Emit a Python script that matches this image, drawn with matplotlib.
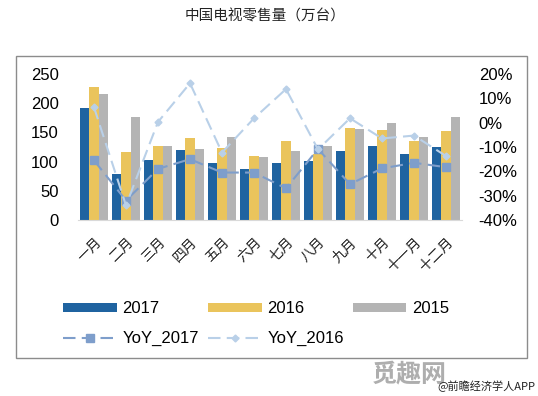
import matplotlib
matplotlib.use("Agg")
import matplotlib.pyplot as plt
import numpy as np
from matplotlib.patches import Rectangle
from matplotlib.lines import Line2D

plt.rcParams['font.family'] = ['Liberation Sans', 'Noto Sans CJK SC', 'DejaVu Sans']

months = ['一月', '二月', '三月', '四月', '五月', '六月', '七月', '八月', '九月', '十月', '十一月', '十二月']
sales_2017 = [192, 79, 103, 120, 98, 87, 98, 101, 118, 126, 113, 125]
sales_2016 = [228, 117, 127, 141, 124, 110, 136, 113, 158, 154, 135, 152]
sales_2015 = [215, 177, 127, 122, 142, 108, 119, 127, 155, 166, 142, 176]
yoy_2017 = [-15.5, -32, -19, -15, -20.5, -20.5, -27, -10.8, -25.3, -18.8, -16.5, -18.3]
yoy_2016 = [6.3, -34, 0.3, 16.2, -12.3, 1.8, 13.8, -11, 1.8, -6.5, -5.3, -13.7]

c2017 = '#1F63A0'
c2016 = '#EAC45C'
c2015 = '#B4B4B4'
cy17 = '#7E9ECB'
cy16 = '#B9D0E8'

fig = plt.figure(figsize=(5.38, 3.96), dpi=100)
fig.patch.set_facecolor('white')

# outer frame
fig.patches.append(Rectangle((16/538, 1-358/396), 511/538, 302/396, transform=fig.transFigure,
                             fill=False, edgecolor='#8C8C8C', linewidth=1.0, zorder=0))

ax = fig.add_axes([78/538, 1-220/396, 384/538, 146/396])
x = np.arange(len(months))
w = 0.29
b1 = ax.bar(x - w, sales_2017, w, color=c2017, label='2017', zorder=2)
b2 = ax.bar(x, sales_2016, w, color=c2016, label='2016', zorder=2)
b3 = ax.bar(x + w, sales_2015, w, color=c2015, label='2015', zorder=2)
ax.set_xlim(-0.5, len(months) - 0.5)
ax.set_ylim(0, 250)
ax.set_yticks([0, 50, 100, 150, 200, 250])
ax.set_xticks(x)
ax.set_xticklabels(months, rotation=45, ha='right', rotation_mode='anchor',
                   fontsize=10, fontweight='light', color='#222222',
                   family=['Noto Sans CJK SC', 'DejaVu Sans'])
ax.tick_params(axis='x', length=0, pad=11)
ax.tick_params(axis='y', length=0, pad=14, labelsize=12)
for s in ['top', 'right', 'left']:
    ax.spines[s].set_visible(False)
ax.spines['bottom'].set_color('#D9D9D9')
ax.patch.set_alpha(0)

ax2 = ax.twinx()
ax2.set_ylim(-40, 20)
ax2.set_yticks([-40, -30, -20, -10, 0, 10, 20])
ax2.set_yticklabels([f'{v}%' for v in [-40, -30, -20, -10, 0, 10, 20]])
ax2.tick_params(axis='y', length=0, pad=12, labelsize=12)
for s in ['top', 'right', 'left', 'bottom']:
    ax2.spines[s].set_visible(False)
l1, = ax2.plot(x, yoy_2017, color=cy17, linestyle=(0, (6, 3)), linewidth=1.5,
               marker='s', markersize=5.5, label='YoY_2017', zorder=3)
l2, = ax2.plot(x, yoy_2016, color=cy16, linestyle=(0, (6, 3)), linewidth=1.5,
               marker='D', markersize=3.5, label='YoY_2016', zorder=3)

fig.text(265/538, 1-17/396, '中国电视零售量（万台）', ha='center', va='center', fontsize=10.5,
         family=['Noto Sans CJK SC', 'DejaVu Sans'], color='#222222')

leg = fig.legend([b1, l1, b2, l2, b3], ['2017', 'YoY_2017', '2016', 'YoY_2016', '2015'],
                 ncol=3, loc='upper left', bbox_to_anchor=(55/538, 1-293/396),
                 frameon=False, fontsize=12, handlelength=3.2, handleheight=0.45,
                 handletextpad=0.35, columnspacing=0.55, labelspacing=0.9, borderpad=0)

fig.text(372/538, 1-374/396, '觅趣网', ha='left', va='center', fontsize=18, fontweight='bold',
         color='#9A9A9A', alpha=0.8, family=['Noto Sans CJK SC', 'DejaVu Sans'])
fig.text(535/538, 1-386/396, '@前瞻经济学人APP', ha='right', va='center', fontsize=8,
         color='#222222', family=['Noto Sans CJK SC', 'DejaVu Sans'])

fig.savefig('out.png', dpi=100, facecolor='white')
